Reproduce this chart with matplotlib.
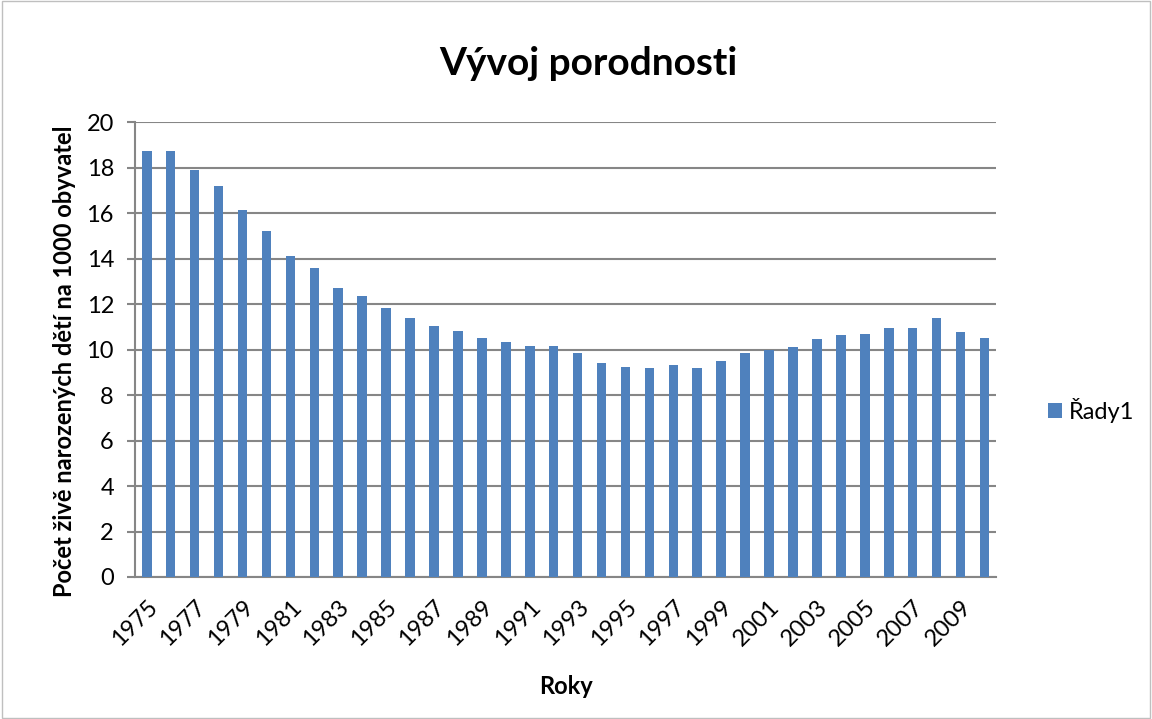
import matplotlib.pyplot as plt
from matplotlib.patches import Rectangle

# birth rate data
years = list(range(1975, 2011))
values = [18.74, 18.74, 17.9, 17.2, 16.14, 15.2, 14.1, 13.57, 12.71, 12.36,
          11.85, 11.38, 11.06, 10.82, 10.53, 10.34, 10.16, 10.16, 9.87, 9.41,
          9.25, 9.18, 9.32, 9.18, 9.48, 9.87, 10.0, 10.1, 10.48, 10.63,
          10.7, 10.93, 10.95, 11.38, 10.76, 10.53]
series_name = "Řady1"

plt.rcParams['font.family'] = ['Lato', 'DejaVu Sans']
bar_color = "#4F81BD"
grid_color = "#868686"

fig = plt.figure(figsize=(11.52, 7.19), dpi=100)
ax = fig.add_axes([0.117, 0.1975, 0.748, 0.6325])

x = list(range(len(years)))
ax.bar(x, values, width=0.4, color=bar_color, zorder=3, label=series_name)

ax.set_xlim(-0.5, len(years) - 0.5)
ax.set_ylim(0, 20)
ax.set_yticks(range(0, 21, 2))
ax.tick_params(axis='y', labelsize=17, length=6, width=1.5, color=grid_color, pad=9)
ax.set_xticks(x[::2])
ax.set_xticklabels([str(y) for y in years[::2]], rotation=45, ha='right',
                   rotation_mode='anchor', fontsize=17)
ax.tick_params(axis='x', length=0, pad=14)

ax.grid(axis='y', color=grid_color, linewidth=1.5, zorder=0)
for side in ['top', 'right']:
    ax.spines[side].set_visible(False)
for side in ['left', 'bottom']:
    ax.spines[side].set_color(grid_color)
    ax.spines[side].set_linewidth(1.5)

ax.set_title("Vývoj porodnosti", fontsize=28, fontweight='bold', pad=34, x=0.526)
ax.set_xlabel("Roky", fontsize=17, fontweight='bold', labelpad=18)
ax.set_ylabel("Počet živě narozených dětí na 1000 obyvatel", fontsize=17,
              fontweight='bold')
ax.yaxis.set_label_coords(-0.068, 0.475)

ax.legend(loc='center left', bbox_to_anchor=(1.035, 0.367), frameon=False,
          fontsize=17, handlelength=0.6, handleheight=0.6, handletextpad=0.3)

# chart border
fig.patches.append(Rectangle((0.002, 0.002), 0.996, 0.996, transform=fig.transFigure,
                             fill=False, edgecolor="#BFBFBF", linewidth=1))

fig.savefig("out.png", dpi=100)
